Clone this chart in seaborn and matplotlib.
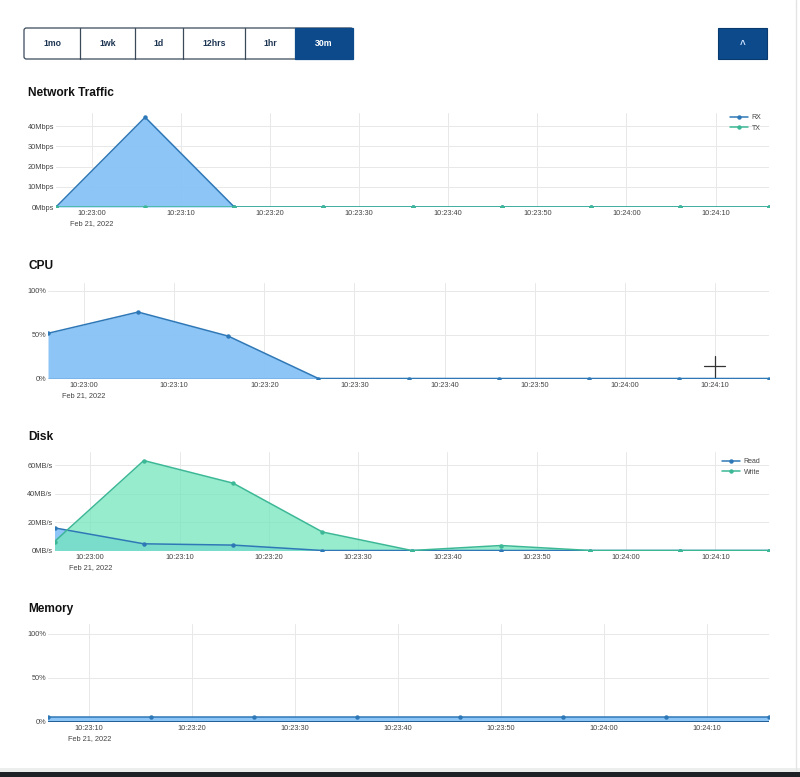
import matplotlib
matplotlib.use("Agg")
import matplotlib.pyplot as plt
from matplotlib.patches import Rectangle, FancyBboxPatch
from matplotlib.lines import Line2D
import pandas as pd
import seaborn as sns

# ---- data ----
DAY = "2022-02-21 "
TIMES = ["10:22:56", "10:23:06", "10:23:16", "10:23:26", "10:23:36",
         "10:23:46", "10:23:56", "10:24:06", "10:24:16"]
MEM_TIMES = ["10:23:06", "10:23:16", "10:23:26", "10:23:36",
             "10:23:46", "10:23:56", "10:24:06", "10:24:16"]

NET_RX = [0, 44.5, 0, 0, 0, 0, 0, 0, 0]          # Mbps
NET_TX = [0, 0, 0, 0, 0, 0, 0, 0, 0]
CPU_PCT = [51.5, 75.7, 48.3, 0, 0, 0, 0, 0, 0]   # %
DISK_READ = [15.9, 4.7, 3.8, 0, 0, 0, 0, 0, 0]   # MB/s
DISK_WRITE = [6.3, 63.2, 47.3, 13, 0, 3.5, 0, 0, 0]
MEM_PCT = [5, 5, 5, 5, 5, 5, 5, 5]

XTICKS = ["10:23:00", "10:23:10", "10:23:20", "10:23:30",
          "10:23:40", "10:23:50", "10:24:00", "10:24:10"]
MEM_XTICKS = ["10:23:10", "10:23:20", "10:23:30", "10:23:40",
              "10:23:50", "10:24:00", "10:24:10"]
DATE_LABEL = "Feb 21, 2022"

NET_YTICKS = [0, 10, 20, 30, 40]
NET_YLABELS = ["0Mbps", "10Mbps", "20Mbps", "30Mbps", "40Mbps"]
PCT_YTICKS = [0, 50, 100]
PCT_YLABELS = ["0%", "50%", "100%"]
DISK_YTICKS = [0, 20, 40, 60]
DISK_YLABELS = ["0MB/s", "20MB/s", "40MB/s", "60MB/s"]

BUTTONS = ["1mo", "1wk", "1d", "12hrs", "1hr", "30m"]

BLUE_LINE, BLUE_FILL = "#2f78b7", "#86c2f6"
GREEN_LINE, GREEN_FILL = "#3cb896", "#74e6bd"
NAVY = "#0c4a8c"

W, H = 800, 777


def fx(px):
    return px / W


def fy(py):
    return 1 - py / H


def ts(day, times):
    return pd.to_datetime([day + t for t in times])


def panel(fig, title, title_y, box, ylim, yticks, ylabels, xticks, series):
    left, top, right, bottom = box
    ax = fig.add_axes([fx(left), fy(bottom), fx(right - left), (bottom - top) / H])
    x = series[0][0]
    for xs, ys, line, fill, alpha, label in series:
        ax.fill_between(xs, 0, ys, color=fill, alpha=alpha, lw=0, zorder=1)
    for xs, ys, line, fill, alpha, label in series:
        sns.lineplot(x=xs, y=ys, color=line, marker="o", markersize=3.2,
                     markeredgewidth=0, linewidth=1.1, label=label, ax=ax,
                     zorder=3, legend=bool(label))
    ax.set_xlim(x[0], x[-1])
    ax.set_ylim(*ylim)
    tick_ts = ts(DAY, xticks)
    ax.set_xticks(tick_ts)
    ax.set_xticklabels([xticks[0] + "\n" + DATE_LABEL] + xticks[1:],
                       fontsize=5.3, color="#444444", linespacing=1.55,
                       va="top", family="Liberation Sans")
    ax.set_yticks(yticks)
    ax.set_yticklabels(ylabels, fontsize=5.3, color="#444444",
                       family="Liberation Sans")
    ax.tick_params(length=0, pad=1.5)
    ax.tick_params(axis="x", pad=2.5)
    ax.grid(True, color="#e8e8e8", linewidth=0.7)
    ax.set_axisbelow(True)
    for s in ax.spines.values():
        s.set_visible(False)
    ax.set_xlabel("")
    ax.set_ylabel("")
    fig.text(fx(28), fy(title_y), title, fontsize=8.6, fontweight="bold",
             va="center", ha="left", family="Liberation Sans", color="#111111")
    return ax


sns.set_theme(style="white")
plt.rcParams["font.family"] = ["Liberation Sans", "DejaVu Sans"]
fig = plt.figure(figsize=(W / 100, H / 100), dpi=100)
fig.patch.set_facecolor("white")

t = ts(DAY, TIMES)
tm = ts(DAY, MEM_TIMES)

ax1 = panel(fig, "Network Traffic", 93, (56, 113, 769, 207), (0, 46.6),
            NET_YTICKS, NET_YLABELS, XTICKS,
            [(t, NET_RX, BLUE_LINE, BLUE_FILL, 0.95, "RX"),
             (t, NET_TX, GREEN_LINE, GREEN_FILL, 0.8, "TX")])
ax2 = panel(fig, "CPU", 266, (48, 283, 769, 378.5), (0, 108.8),
            PCT_YTICKS, PCT_YLABELS, XTICKS,
            [(t, CPU_PCT, BLUE_LINE, BLUE_FILL, 0.95, None)])
ax3 = panel(fig, "Disk", 437, (54.5, 452, 769, 550.5), (0, 69.2),
            DISK_YTICKS, DISK_YLABELS, XTICKS,
            [(t, DISK_READ, BLUE_LINE, BLUE_FILL, 0.95, "Read"),
             (t, DISK_WRITE, GREEN_LINE, GREEN_FILL, 0.75, "Write")])
ax4 = panel(fig, "Memory", 609, (48, 624, 769, 721.5), (0, 111),
            PCT_YTICKS, PCT_YLABELS, MEM_XTICKS,
            [(tm, MEM_PCT, BLUE_LINE, BLUE_FILL, 0.95, None)])
ax4.axhline(0, color="#1f5f96", linewidth=1.4, zorder=4)
ax2.axhline(0, color=BLUE_LINE, linewidth=1.0, zorder=2)

for ax, anchor in ((ax1, (fx(730), fy(114))), (ax3, (fx(722), fy(458)))):
    ax.legend(loc="upper left", bbox_to_anchor=anchor,
              bbox_transform=fig.transFigure, frameon=False, fontsize=5,
              handlelength=2.6, handletextpad=0.5, labelspacing=0.55,
              borderpad=0, borderaxespad=0, labelcolor="#444444")

# ---- range selector buttons ----
edges = [24, 80, 135, 183, 245, 295, 353]
fig.patches.append(FancyBboxPatch((fx(edges[0]), fy(59)), fx(edges[-1] - edges[0]),
                                  31 / H, boxstyle="round,pad=0,rounding_size=0.003",
                                  transform=fig.transFigure, facecolor="white",
                                  edgecolor="#3a4a5a", linewidth=0.9))
fig.patches.append(Rectangle((fx(edges[5]), fy(59)), fx(edges[6] - edges[5]), 31 / H,
                             transform=fig.transFigure, facecolor=NAVY,
                             edgecolor=NAVY, linewidth=0.9))
for i, name in enumerate(BUTTONS):
    if 0 < i < len(BUTTONS) - 1:
        fig.add_artist(Line2D([fx(edges[i])] * 2, [fy(28), fy(59)],
                              transform=fig.transFigure, color="#3a4a5a", lw=0.9))
    active = name == "30m"
    fig.text(fx((edges[i] + edges[i + 1]) / 2), fy(44), name, fontsize=6.3,
             fontweight="bold", ha="center", va="center",
             color="white" if active else "#1d3552")
fig.patches.append(Rectangle((fx(718), fy(59)), fx(49), 31 / H,
                             transform=fig.transFigure, facecolor=NAVY,
                             edgecolor="#083a70", linewidth=0.8))
fig.text(fx(742.5), fy(45), "^", fontsize=7, fontweight="bold", ha="center",
         va="center", color="#cfe3ff")

# ---- screenshot frame: cursor, right border, bottom bar ----
fig.add_artist(Line2D([fx(704), fx(725)], [fy(366)] * 2, transform=fig.transFigure,
                      color="#333333", lw=0.9))
fig.add_artist(Line2D([fx(714.5)] * 2, [fy(356), fy(377)], transform=fig.transFigure,
                      color="#333333", lw=0.9))
fig.add_artist(Line2D([fx(796)] * 2, [fy(0), fy(770)], transform=fig.transFigure,
                      color="#e4e4e4", lw=1.0))
fig.patches.append(Rectangle((0, fy(772)), 1, 4 / H, transform=fig.transFigure,
                             facecolor="#eceeee", edgecolor="none"))
fig.patches.append(Rectangle((0, 0), 1, 5 / H, transform=fig.transFigure,
                             facecolor="#1f2225", edgecolor="none"))

fig.savefig("out.png", dpi=100, facecolor="white")
